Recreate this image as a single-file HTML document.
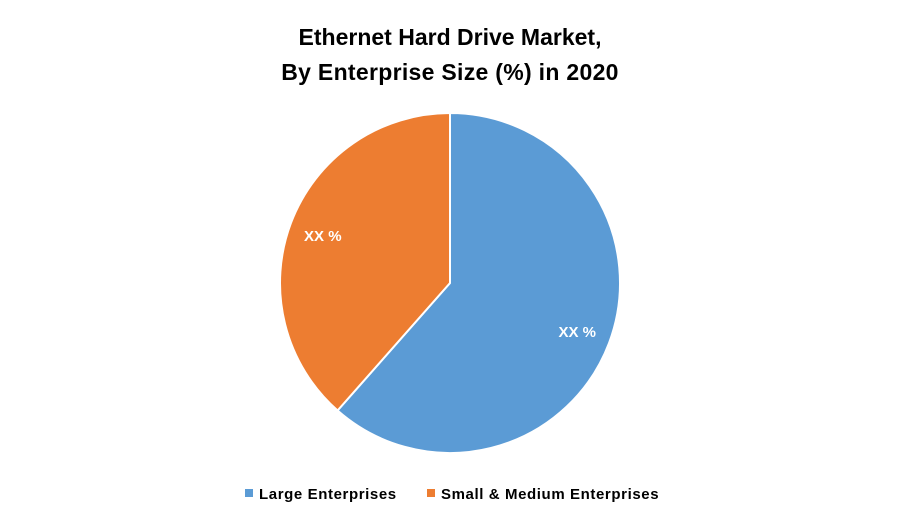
<!DOCTYPE html>
<html><head><meta charset="utf-8"><style>
html,body{margin:0;padding:0;background:#fff;}
body{width:900px;height:525px;overflow:hidden;font-family:"Liberation Sans",sans-serif;}
</style></head><body>
<svg width="900" height="525">
<text x="450" y="45" text-anchor="middle" font-size="23" font-weight="bold" fill="#000">Ethernet Hard Drive Market,</text>
<text x="450" y="80" text-anchor="middle" font-size="23" font-weight="bold" fill="#000" letter-spacing="0.3">By Enterprise Size (%) in 2020</text>
<g id="slices"></g>
<g id="legend"></g>
</svg>
<script>
const categories=["Large Enterprises","Small & Medium Enterprises"];
const values=[61.5,38.5];
const labels=["XX %","XX %"];
const colors=["#5b9bd5","#ed7d31"];
const cx=450,cy=283,r=170;
const ns="http://www.w3.org/2000/svg";
const g=document.getElementById('slices');
const total=values.reduce((a,b)=>a+b,0);
let a0=0;
function pt(a,rr){return [cx+rr*Math.sin(a),cy-rr*Math.cos(a)];}
values.forEach((v,i)=>{
  const a1=a0+v/total*2*Math.PI;
  const p0=pt(a0,r),p1=pt(a1,r);
  const large=(a1-a0)>Math.PI?1:0;
  const p=document.createElementNS(ns,'path');
  p.setAttribute('d',`M${cx},${cy}L${p0[0]},${p0[1]}A${r},${r} 0 ${large} 1 ${p1[0]},${p1[1]}Z`);
  p.setAttribute('fill',colors[i]);p.setAttribute('stroke','#fff');p.setAttribute('stroke-width','2');
  
  
  g.appendChild(p);
  const m=(a0+a1)/2,lp=pt(m,r*0.8);
  const t=document.createElementNS(ns,'text');
  t.setAttribute('x',lp[0]);t.setAttribute('y',lp[1]+6);
  t.setAttribute('text-anchor','middle');t.setAttribute('font-size','15');t.setAttribute('font-weight','bold');t.setAttribute('fill','#fff');
  t.textContent=labels[i];
  
  
  g.appendChild(t);
  a0=a1;
});
const lg=document.getElementById('legend');
const lx=[245,427];
categories.forEach((c,i)=>{
  const s=document.createElementNS(ns,'rect');
  s.setAttribute('x',lx[i]);s.setAttribute('y',489);s.setAttribute('width',8);s.setAttribute('height',8);s.setAttribute('fill',colors[i]);
  
  
  lg.appendChild(s);
  const t=document.createElementNS(ns,'text');
  t.setAttribute('x',lx[i]+14);t.setAttribute('y',499);t.setAttribute('font-size','15');t.setAttribute('font-weight','bold');t.setAttribute('fill','#000');
  t.setAttribute('letter-spacing','0.6');
  t.textContent=c;
  
  
  lg.appendChild(t);
});
</script>
</body></html>
